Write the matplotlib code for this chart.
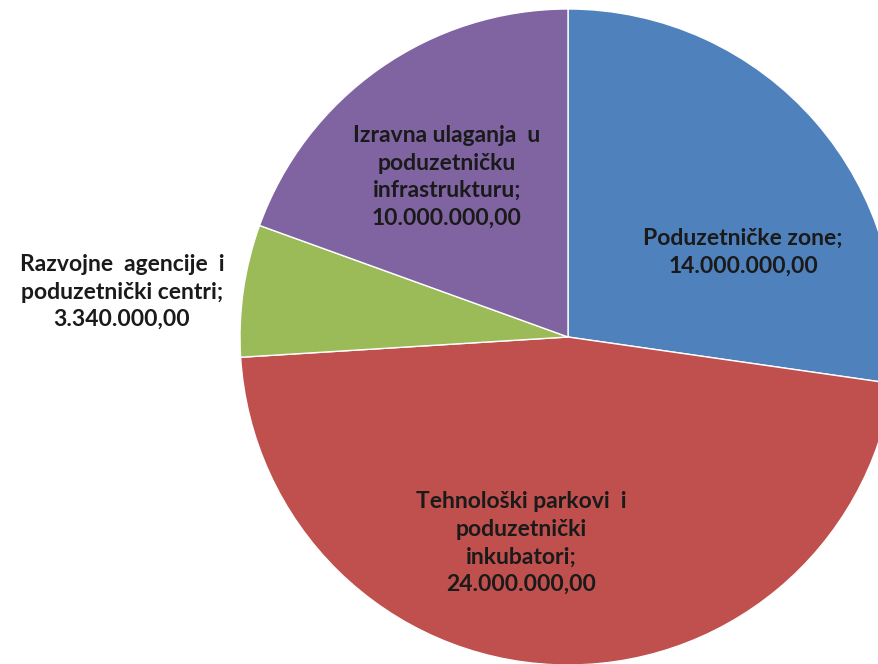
import matplotlib.pyplot as plt

labels = ["Poduzetničke zone;\n14.000.000,00",
          "Tehnološki parkovi  i\npoduzetnički\ninkubatori;\n24.000.000,00",
          "Razvojne  agencije  i\npoduzetnički centri;\n3.340.000,00",
          "Izravna ulaganja  u\npoduzetničku\ninfrastrukturu;\n10.000.000,00"]
values = [14000000, 24000000, 3340000, 10000000]
colors = ["#4f81bd", "#c0504d", "#9bbb59", "#8064a2"]
# label centres, in units of the pie radius
label_pos = [(0.534, 0.259), (-0.143, -0.628), (-1.36, 0.137), (-0.369, 0.488)]

W, H = 879, 664
cx, cy, r = 568, 337, 328

fig = plt.figure(figsize=(W / 100, H / 100), dpi=100)
ax = fig.add_axes([0, 0, 1, 1])
ax.pie(values, colors=colors, startangle=90, counterclock=False,
       wedgeprops=dict(edgecolor="white", linewidth=1))
ax.set_aspect("auto")
ax.set_xlim(-cx / r, (W - cx) / r)
ax.set_ylim(-(H - cy) / r, cy / r)
ax.axis("off")

for lab, (x, y) in zip(labels, label_pos):
    ax.text(x, y, lab, ha="center", va="center", fontsize=16.5, fontweight="bold",
            family=["Lato", "DejaVu Sans"], color="#1a1a1a", linespacing=1.38)

plt.savefig("out.png", dpi=100, facecolor="white")
